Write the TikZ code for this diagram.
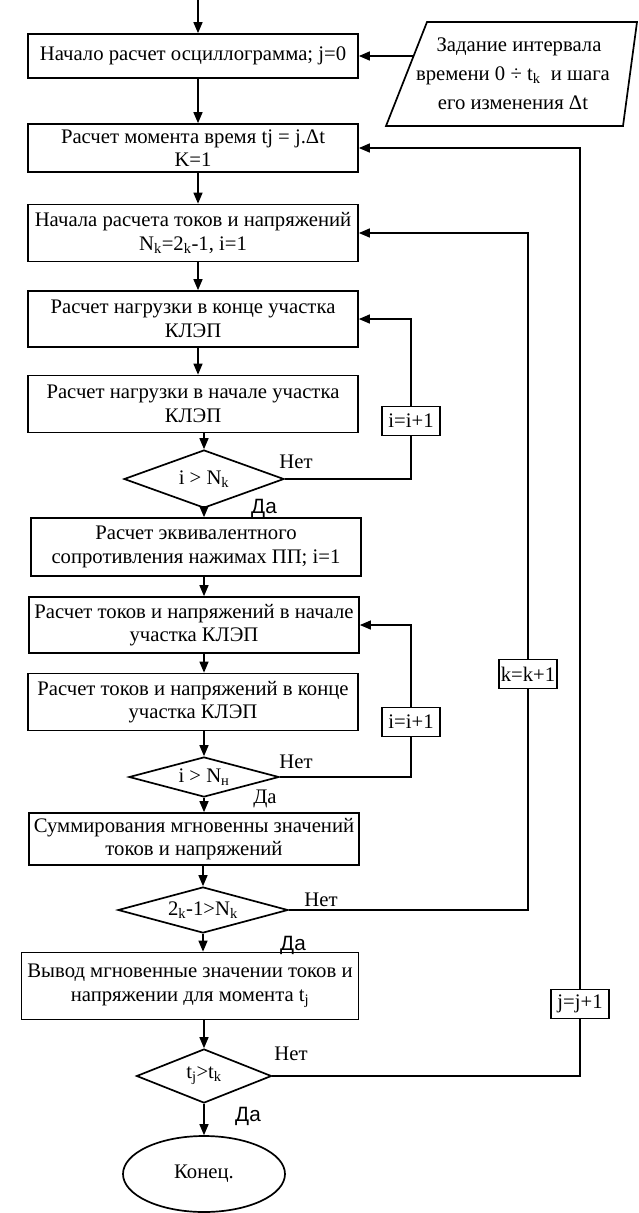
\documentclass[tikz,border=0pt]{standalone}
\usepackage{fontspec}
\setmainfont{Liberation Serif}
\newfontfamily\sansda{Liberation Sans}
\usetikzlibrary{shapes.geometric,arrows.meta}
\begin{document}
\begin{tikzpicture}[x=1pt,y=-1pt,
 every node/.style={font=\fontsize{20.7}{23.5}\selectfont, inner sep=0pt},
 proc/.style={draw, line width=1.7pt, minimum width=330pt, align=center},
 dec/.style={draw, diamond, line width=1.7pt},
 inc/.style={draw, line width=1.4pt, minimum width=58pt, minimum height=29pt, fill=white},
 da/.style={font=\fontsize{20.7}{24}\sansda},
 con/.style={line width=1.4pt},
 arr/.style={con, -{Triangle[length=11pt,width=9pt]}}]
\useasboundingbox (0,0) rectangle (639,1213);
\coordinate (top) at (198,0);
% main column
\node[proc, minimum height=44pt] (b1) at (193,56) {Начало расчет осциллограмма; j=0};
\node[proc, minimum height=48pt] (b2) at (193,148) {Расчет момента время tj = j.Δt\\K=1};
\node[proc, minimum height=57pt] (b3) at (193,233) {Начала расчета токов и напряжений\\N\textsubscript{k}=2\textsubscript{k}-1, i=1};
\node[proc, minimum height=56pt] (b4) at (193,319) {Расчет нагрузки в конце участка\\КЛЭП};
\node[proc, minimum height=57pt] (b5) at (193,404) {Расчет нагрузки в начале участка\\КЛЭП};
\node[dec, aspect=2.8, minimum width=160pt, minimum height=58pt] (d1) at (204,479) {i > N\textsubscript{k}};
\node[proc, minimum height=58pt] (b6) at (196,547) {Расчет эквивалентного\\сопротивления нажимах ПП; i=1};
\node[proc, minimum height=56pt] (b7) at (194,625) {Расчет токов и напряжений в начале\\участка КЛЭП};
\node[proc, minimum height=57pt] (b8) at (193,702) {Расчет токов и напряжений в конце\\участка КЛЭП};
\node[dec, aspect=3.7, minimum width=150pt, minimum height=40pt] (d2) at (204,777) {i > N\textsubscript{н}};
\node[proc, minimum height=52pt] (b9) at (194,839) {Суммирования мгновенны значений\\токов и напряжений};
\node[dec, aspect=3.7, minimum width=170pt, minimum height=46pt] (d3) at (203,910) {2\textsubscript{k}-1>N\textsubscript{k}};
\node[proc, minimum width=337pt, minimum height=67pt] (b10) at (190,986) {Вывод мгновенные значении токов и\\напряжении для момента t\textsubscript{j}};
\node[dec, aspect=2.5, minimum width=135pt, minimum height=54pt] (d4) at (204,1076) {t\textsubscript{j}>t\textsubscript{k}};
\node[draw, ellipse, line width=1.7pt, minimum width=162pt, minimum height=76pt] (end) at (204,1174) {Конец.};
% input parallelogram
\coordinate (pTL) at (427,22);
\coordinate (pTR) at (637,22);
\coordinate (pBR) at (623,126);
\coordinate (pBL) at (386,126);
\draw[line width=1.7pt] (pTL) -- (pTR) -- (pBR) -- (pBL) -- cycle;
\node[align=center, font=\fontsize{20.7}{29}\selectfont] (ptext) at (513,74) {\hspace*{12pt}Задание интервала\\времени 0 ÷ t\textsubscript{k}\ \ и шага\\его изменения Δt};
\coordinate (pin) at (413,56);
% loop boxes
\node[inc] (i1) at (411,421) {i=i+1};
\node[inc] (i2) at (411,722) {i=i+1};
\node[inc] (kk) at (528,674) {k=k+1};
\node[inc] (jj) at (580,1004) {j=j+1};
% main arrows
\coordinate (ax) at (198,0);
\draw[arr] (top) -- (b1.north -| top);
\draw[arr] (pin) -- (b1.east);
\draw[arr] (b1.south -| ax) -- (b2.north -| ax);
\draw[arr] (b2.south -| ax) -- (b3.north -| ax);
\draw[arr] (b3.south -| ax) -- (b4.north -| ax);
\draw[arr] (b4.south -| ax) -- (b5.north -| ax);
\draw[arr] (b5.south -| d1.north) -- (d1.north);
\draw[arr] (d1.south) -- (b6.north -| d1.south);
\draw[arr] (b6.south -| d1.south) -- (b7.north -| d1.south);
\draw[arr] (b7.south -| d2.north) -- (b8.north -| d2.north);
\draw[arr] (b8.south -| d2.north) -- (d2.north);
\draw[arr] (d2.south) -- (b9.north -| d2.south);
\draw[arr] (b9.south -| d3.north) -- (d3.north);
\draw[arr] (d3.south) -- (b10.north -| d3.south);
\draw[arr] (b10.south -| d4.north) -- (d4.north);
\draw[arr] (d4.south) -- (end.north);
% loops
\draw[con] (d1.east) -| (i1.south);
\draw[arr] (i1.north) |- (b4.east);
\draw[con] (d2.east) -| (i2.south);
\draw[arr] (i2.north) |- (b7.east);
\draw[con] (d3.east) -| (kk.south);
\draw[arr] (kk.north) |- (b3.east);
\draw[con] (d4.east) -| (jj.south);
\draw[arr] (jj.north) |- (b2.east);
% labels
\node (n1) at (296,462) {Нет};
\node[da] (y1) at (264,508) {Да};
\node (n2) at (296,762) {Нет};
\node (y2) at (265,799) {Да};
\node (n3) at (321,900) {Нет};
\node[da] (y3) at (293,945) {Да};
\node (n4) at (291,1054) {Нет};
\node[da] (y4) at (248,1116) {Да};
\end{tikzpicture}
\end{document}
